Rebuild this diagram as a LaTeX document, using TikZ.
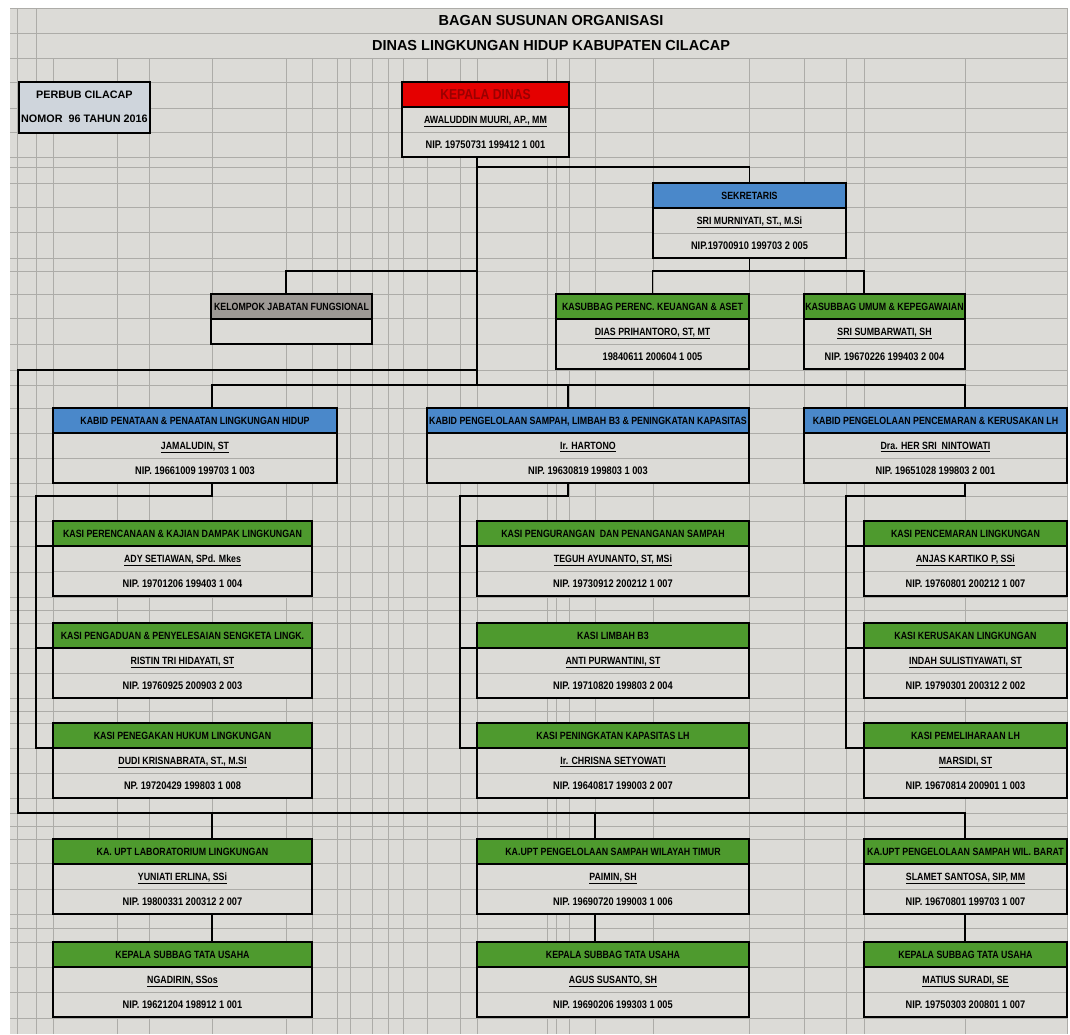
\documentclass[tikz,border=0pt]{standalone}
\usepackage{fontspec}
\setmainfont{Liberation Sans}
\newfontfamily\narrowfont[FakeStretch=0.84]{Liberation Sans}
\usetikzlibrary{calc}
\tikzset{>=stealth}

\definecolor{sheet}{HTML}{DCDBD7}
\definecolor{gridc}{HTML}{ADACA8}
\definecolor{hdblue}{HTML}{4A88CA}
\definecolor{hdgreen}{HTML}{4E9A2E}
\definecolor{hdred}{HTML}{E50000}
\definecolor{hdredtext}{HTML}{9A0000}
\definecolor{hdgrey}{HTML}{9D9995}
\definecolor{perbubc}{HTML}{CFD5DC}

\tikzset{
  gridline/.style={draw=gridc, line width=0.6pt},
  link/.style={line width=1.8pt, line cap=rect},
  unitbox/.style={draw, line width=1.8pt, fill=sheet, anchor=north west,
    minimum height=75pt, inner sep=0pt, outer sep=0pt},
  header/.style={path picture={
    \fill[#1] (path picture bounding box.north west) rectangle ([yshift=-25pt]path picture bounding box.north east);
    \draw[line width=1.8pt] ([yshift=-25pt]path picture bounding box.north west) -- ([yshift=-25pt]path picture bounding box.north east);
    \draw[gridline] ([yshift=-50pt]path picture bounding box.north west) -- ([yshift=-50pt]path picture bounding box.north east);}},
  boxtext/.style={font=\narrowfont\bfseries\fontsize{10.5}{12}\selectfont,
    inner sep=0pt, text height=7.6pt, text depth=0pt},
  niptext/.style={boxtext, font=\narrowfont\bfseries\fontsize{11}{12}\selectfont},
  titletext/.style={font=\bfseries\fontsize{14.5}{17}\selectfont, inner sep=0pt},
  perbubtext/.style={font=\bfseries\fontsize{10.8}{13}\selectfont, inner sep=0pt,
    text height=7.8pt, text depth=0pt}
}

% name, x, y, width, header colour, post, person, nip
\newcommand{\orgbox}[8]{%
  \node[unitbox, minimum width=#4pt, header=#5] (#1) at (#2,#3) {};
  \coordinate (#1-h) at ([yshift=-25pt]#1.north west);
  \node[boxtext] (#1-t) at ([yshift=-12.5pt]#1.north) {#6};
  \node[boxtext] (#1-n) at ([yshift=-37.5pt]#1.north) {\underline{#7}};
  \node[niptext] (#1-p) at ([yshift=-62.5pt]#1.north) {#8};
}

\begin{document}
\begin{tikzpicture}[x=1pt, y=-1pt]
\useasboundingbox (0,0) rectangle (1070,1034);

% spreadsheet
\fill[sheet] (10,8) rectangle (1067,1034);
\foreach \y in {8,33,58,82,108,132,157,167,183,207,232,258,271,294,318,344,370,385,408,433,458,483,496,521,546,572,597,610,623,648,673,698,711,723,748,773,798,813,826,839,863,889,914,928,942,967,992,1018}
  \draw[gridline] (10,\y) -- (1067,\y);
\foreach \x in {17,36,1067}
  \draw[gridline] (\x,8) -- (\x,1034);
\foreach \x in {53,117,149,212,286,312,337,350,372,388,403,427,460,477,547,556,569,595,653,749,804,846,864,965}
  \draw[gridline] (\x,58) -- (\x,1034);

\node[titletext] (title1) at (551,21) {BAGAN SUSUNAN ORGANISASI};
\node[titletext] (title2) at (551,46) {DINAS LINGKUNGAN HIDUP KABUPATEN CILACAP};

\node[draw, line width=1.8pt, fill=perbubc, anchor=north west, minimum width=131pt,
  minimum height=51pt] (perbub) at (18,81) {};
\node[perbubtext] (perbub-a) at ([yshift=-14pt]perbub.north) {PERBUB CILACAP};
\node[perbubtext] (perbub-b) at ([yshift=-38pt]perbub.north) {NOMOR\ \ 96 TAHUN 2016};

% top
\orgbox{kd}{402}{82}{167}{hdred}{\color{hdredtext}\fontsize{14.5}{16}\selectfont\raisebox{-1.4pt}{KEPALA DINAS}}{AWALUDDIN MUURI, AP., MM}{NIP. 19750731 199412 1 001}
\orgbox{sek}{653}{183}{193}{hdblue}{SEKRETARIS}{SRI MURNIYATI, ST., M.Si}{NIP.19700910 199703 2 005}
\orgbox{ren}{556}{294}{193}{hdgreen}{KASUBBAG PERENC. KEUANGAN \& ASET}{DIAS PRIHANTORO, ST, MT}{19840611 200604 1 005}
\orgbox{umum}{804}{294}{161}{hdgreen}{KASUBBAG UMUM \& KEPEGAWAIAN}{SRI SUMBARWATI, SH}{NIP. 19670226 199403 2 004}
\node[unitbox, minimum width=161pt, minimum height=50pt, header=hdgrey] (kjf) at (211,294) {};
\node[boxtext] (kjf-t) at ([yshift=-12.5pt]kjf.north) {KELOMPOK JABATAN FUNGSIONAL};

% bidang
\orgbox{bid1}{53}{408}{284}{hdblue}{KABID PENATAAN \& PENAATAN LINGKUNGAN HIDUP}{JAMALUDIN, ST}{NIP. 19661009 199703 1 003}
\orgbox{bid2}{427}{408}{322}{hdblue}{KABID PENGELOLAAN SAMPAH, LIMBAH B3 \& PENINGKATAN KAPASITAS}{Ir. HARTONO}{NIP. 19630819 199803 1 003}
\orgbox{bid3}{804}{408}{263}{hdblue}{KABID PENGELOLAAN PENCEMARAN \& KERUSAKAN LH}{Dra. HER SRI\ \ NINTOWATI}{NIP. 19651028 199803 2 001}

% seksi
\orgbox{kasi11}{53}{521}{259}{hdgreen}{KASI PERENCANAAN \& KAJIAN DAMPAK LINGKUNGAN}{ADY SETIAWAN, SPd. Mkes}{NIP. 19701206 199403 1 004}
\orgbox{kasi12}{53}{623}{259}{hdgreen}{KASI PENGADUAN \& PENYELESAIAN SENGKETA LINGK.}{RISTIN TRI HIDAYATI, ST}{NIP. 19760925 200903 2 003}
\orgbox{kasi13}{53}{723}{259}{hdgreen}{KASI PENEGAKAN HUKUM LINGKUNGAN}{DUDI KRISNABRATA, ST., M.SI}{NP. 19720429 199803 1 008}
\orgbox{kasi21}{477}{521}{272}{hdgreen}{KASI PENGURANGAN\ \ DAN PENANGANAN SAMPAH}{TEGUH AYUNANTO, ST, MSi}{NIP. 19730912 200212 1 007}
\orgbox{kasi22}{477}{623}{272}{hdgreen}{KASI LIMBAH B3}{ANTI PURWANTINI, ST}{NIP. 19710820 199803 2 004}
\orgbox{kasi23}{477}{723}{272}{hdgreen}{KASI PENINGKATAN KAPASITAS LH}{Ir. CHRISNA SETYOWATI}{NIP. 19640817 199003 2 007}
\orgbox{kasi31}{864}{521}{203}{hdgreen}{KASI PENCEMARAN LINGKUNGAN}{ANJAS KARTIKO P, SSi}{NIP. 19760801 200212 1 007}
\orgbox{kasi32}{864}{623}{203}{hdgreen}{KASI KERUSAKAN LINGKUNGAN}{INDAH SULISTIYAWATI, ST}{NIP. 19790301 200312 2 002}
\orgbox{kasi33}{864}{723}{203}{hdgreen}{KASI PEMELIHARAAN LH}{MARSIDI, ST}{NIP. 19670814 200901 1 003}

% upt
\orgbox{upt1}{53}{839}{259}{hdgreen}{KA. UPT LABORATORIUM LINGKUNGAN}{YUNIATI ERLINA, SSi}{NIP. 19800331 200312 2 007}
\orgbox{upt2}{477}{839}{272}{hdgreen}{KA.UPT PENGELOLAAN SAMPAH WILAYAH TIMUR}{PAIMIN, SH}{NIP. 19690720 199003 1 006}
\orgbox{upt3}{864}{839}{203}{hdgreen}{KA.UPT PENGELOLAAN SAMPAH WIL. BARAT}{SLAMET SANTOSA, SIP, MM}{NIP. 19670801 199703 1 007}
\orgbox{tu1}{53}{942}{259}{hdgreen}{KEPALA SUBBAG TATA USAHA}{NGADIRIN, SSos}{NIP. 19621204 198912 1 001}
\orgbox{tu2}{477}{942}{272}{hdgreen}{KEPALA SUBBAG TATA USAHA}{AGUS SUSANTO, SH}{NIP. 19690206 199303 1 005}
\orgbox{tu3}{864}{942}{203}{hdgreen}{KEPALA SUBBAG TATA USAHA}{MATIUS SURADI, SE}{NIP. 19750303 200801 1 007}

% lines from kepala dinas
\coordinate (trunk) at (477,385);
\coordinate (jsek) at (477,167);
\coordinate (jkjf) at (477,271);
\coordinate (jout) at (477,370);
\coordinate (jsub) at (sek.south |- jkjf);
\draw[link] (kd.south -| trunk) -- (trunk);
\draw[link] (jsek) -| (sek.north);
\draw[link] (jkjf) -| ([xshift=-5.5pt]kjf.north);
\draw[link] (sek.south) -- (jsub);
\draw[link] (ren.north) |- (jsub) -| ([xshift=-20.5pt]umum.north);

% bidang bus
\coordinate (b1) at (212,385);
\coordinate (b2) at (568,385);
\coordinate (b3) at (965,385);
\draw[link] (b1) -- (b3);
\coordinate (s1) at (36,496);
\coordinate (s2) at (460,496);
\coordinate (s3) at (846,496);
\foreach \i in {1,2,3} {
  \draw[link] (b\i) -- (b\i |- bid\i.north);
  \draw[link] (bid\i.south -| b\i) |- (s\i) |- (kasi\i3-h);
  \foreach \j in {1,2}
    \draw[link] (s\i |- kasi\i\j-h) -- (kasi\i\j-h);
}

% upt bus
\coordinate (u0) at (18,813);
\coordinate (u1) at (212,813);
\coordinate (u2) at (595,813);
\coordinate (u3) at (965,813);
\draw[link] (jout) -| (u0) -- (u3);
\foreach \i in {1,2,3} {
  \draw[link] (u\i) -- (u\i |- upt\i.north);
  \draw[link] (upt\i.south -| u\i) -- (tu\i.north -| u\i);
}
\end{tikzpicture}
\end{document}
